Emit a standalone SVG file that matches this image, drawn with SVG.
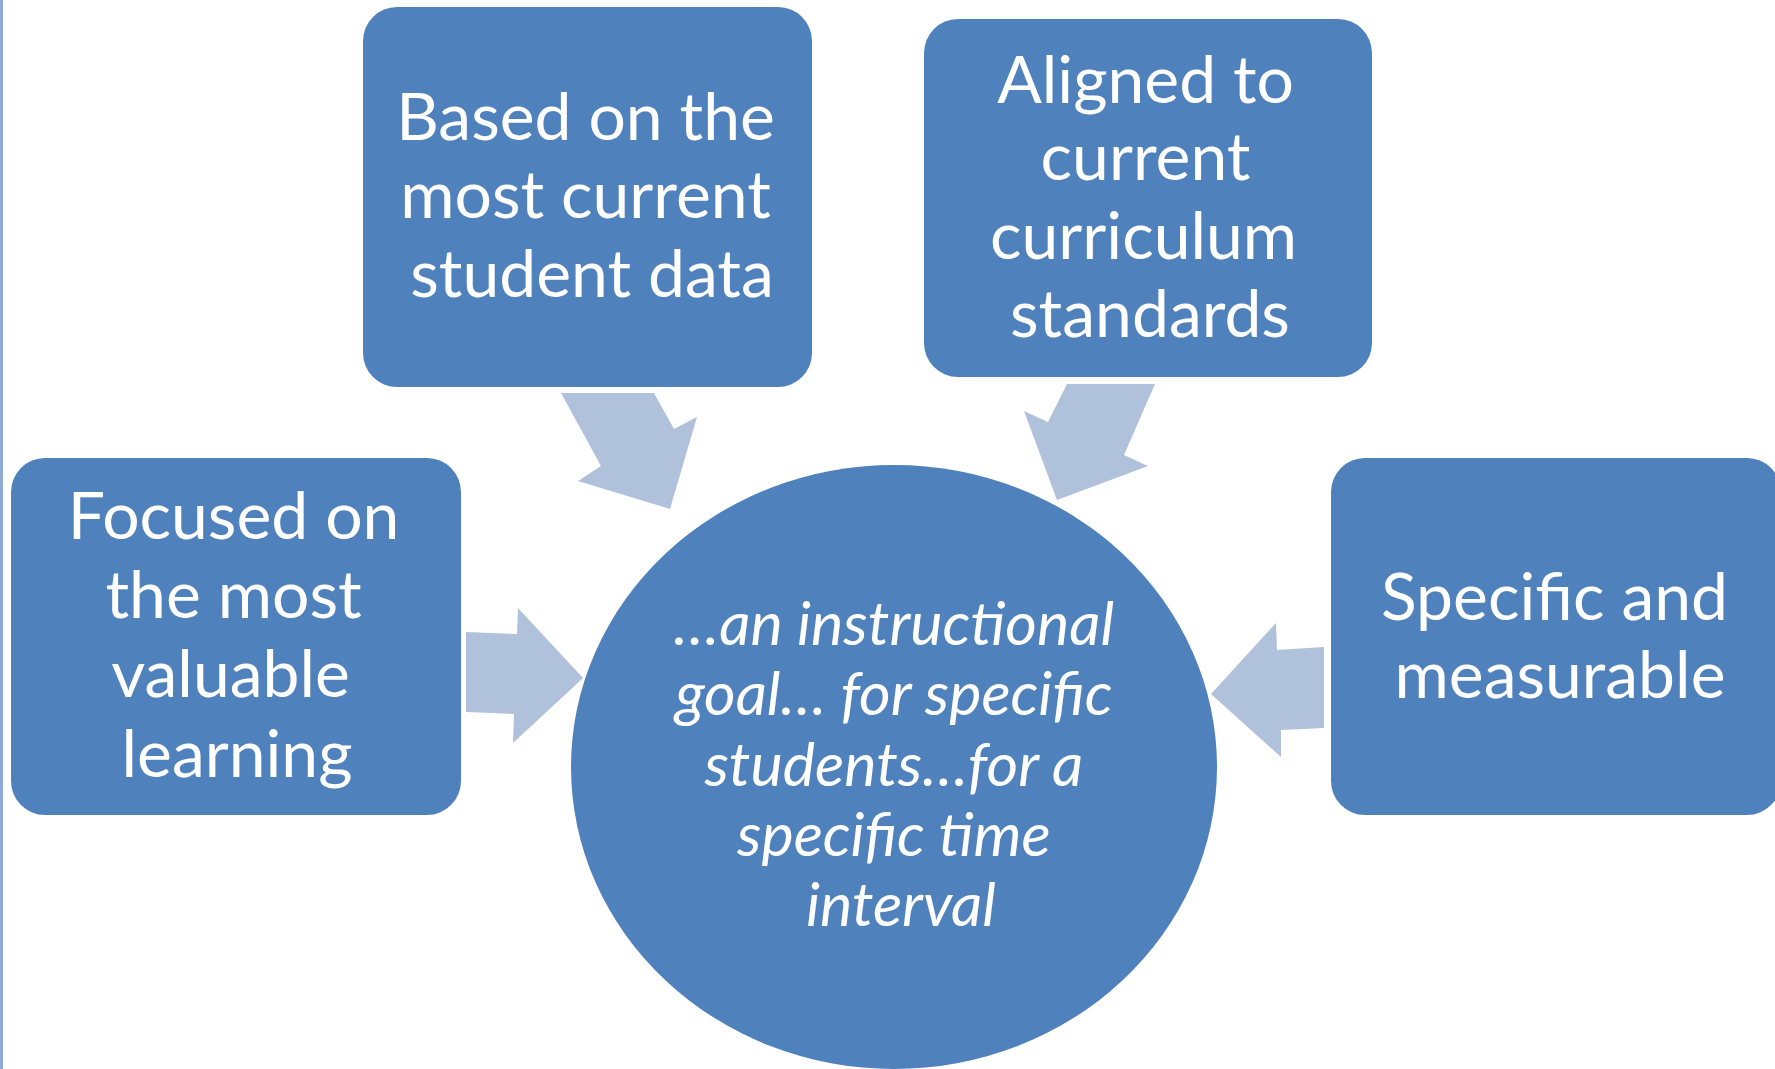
<svg xmlns="http://www.w3.org/2000/svg" width="1775" height="1069" viewBox="0 0 1775 1069">
  <style>
    .box { fill: #4F81BD; }
    .arrow { fill: #B0C1DC; }
    .label { fill: #FFFFFF; font-family: Lato, "Open Sans", "Liberation Sans", sans-serif; font-size: 66px; text-anchor: middle; }
    .goal { fill: #FFFFFF; font-family: Lato, "Open Sans", "Liberation Sans", sans-serif; font-size: 61px; font-style: italic; text-anchor: middle; }
  </style>
  <rect width="1775" height="1069" fill="#FFFFFF"/>
  <!-- thin rule along the left edge -->
  <rect x="0" y="0" width="3" height="1069" fill="#8EAADB"/>

  <g id="goal">
    <ellipse class="box" cx="894" cy="767" rx="323" ry="302"/>
    <text class="goal">
      <tspan x="901" y="645">…an instructional</tspan>
      <tspan x="901" y="715">goal… for specific</tspan>
      <tspan x="901" y="786">students…for a</tspan>
      <tspan x="901" y="856">specific time</tspan>
      <tspan x="901" y="926">interval</tspan>
    </text>
  </g>

  <g id="focused">
    <rect class="box" x="11" y="458" width="450" height="357" rx="34"/>
    <text class="label">
      <tspan x="242" y="539">Focused on</tspan>
      <tspan x="242" y="618">the most</tspan>
      <tspan x="239" y="697">valuable</tspan>
      <tspan x="237" y="777">learning</tspan>
    </text>
  </g>

  <g id="based">
    <rect class="box" x="363" y="7" width="449" height="380" rx="34"/>
    <text class="label">
      <tspan x="594" y="140">Based on the</tspan>
      <tspan x="594" y="218">most current</tspan>
      <tspan x="592" y="297">student data</tspan>
    </text>
  </g>

  <g id="aligned">
    <rect class="box" x="924" y="19" width="448" height="358" rx="34"/>
    <text class="label">
      <tspan x="1154" y="103">Aligned to</tspan>
      <tspan x="1154" y="180">current</tspan>
      <tspan x="1152" y="259">curriculum</tspan>
      <tspan x="1150" y="337">standards</tspan>
    </text>
  </g>

  <g id="specific">
    <rect class="box" x="1331" y="458" width="450" height="357" rx="34"/>
    <text class="label">
      <tspan x="1563" y="620">Specific and</tspan>
      <tspan x="1560" y="698">measurable</tspan>
    </text>
  </g>

  <g id="connectors">
    <polygon class="arrow" points="466,632 517,634 518,608 583,678 513,743 514,714 466,712"/>
    <polygon class="arrow" points="561,393 654,393 674,429 697,417 670,509 578,481 601,466"/>
    <polygon class="arrow" points="1067,384 1155,384 1124,455 1148,466 1057,500 1024,411 1048,422"/>
    <polygon class="arrow" points="1324,647 1277,650 1276,623 1211,694 1281,757 1281,730 1324,728"/>
  </g>
</svg>
